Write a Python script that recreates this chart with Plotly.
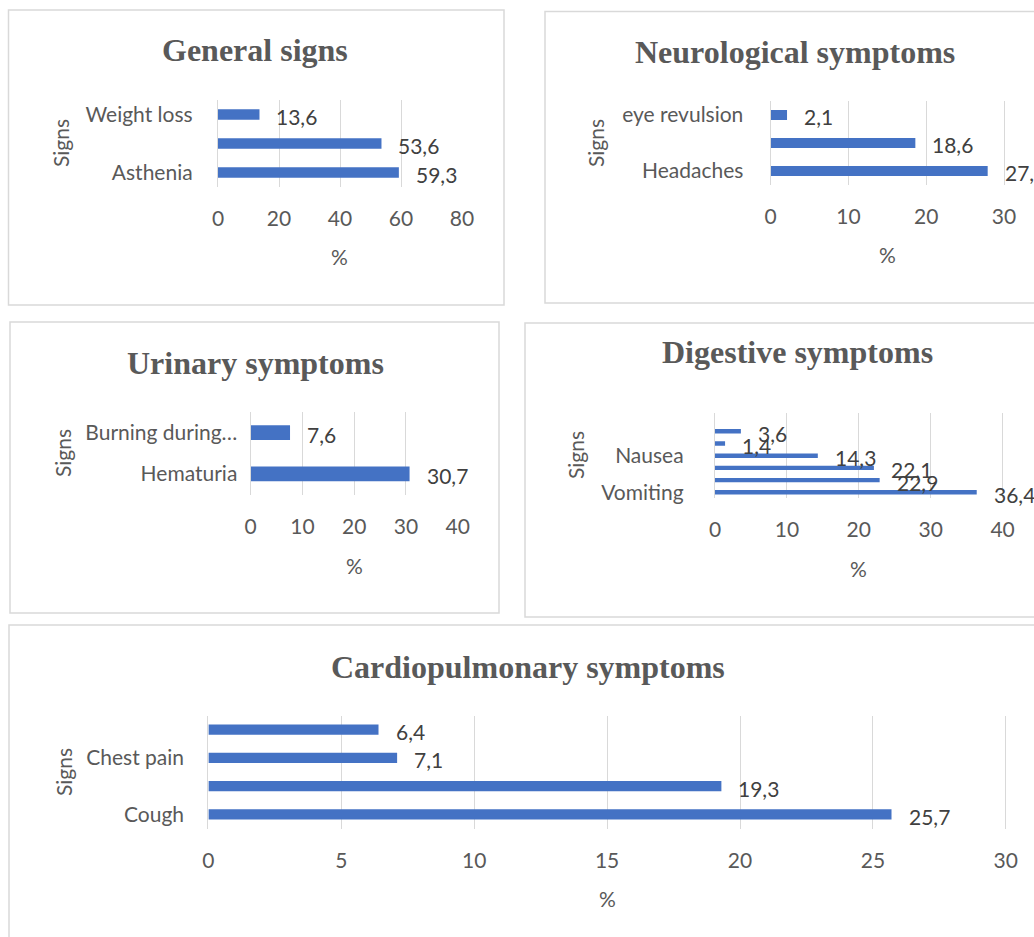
import plotly.graph_objects as go

# ---------------- data ----------------
general_labels = ["Asthenia", "", "Weight loss"]
general_values = [59.3, 53.6, 13.6]

neuro_labels = ["Headaches", "", "eye revulsion"]
neuro_values = [27.9, 18.6, 2.1]

urinary_labels = ["Hematuria", "Burning during…"]
urinary_values = [30.7, 7.6]

digestive_labels = ["Vomiting", "", "", "Nausea", "", ""]
digestive_values = [36.4, 22.9, 22.1, 14.3, 1.4, 3.6]

cardio_labels = ["Cough", "", "Chest pain", ""]
cardio_values = [25.7, 19.3, 7.1, 6.4]

titles = ["General signs", "Neurological symptoms", "Urinary symptoms",
          "Digestive symptoms", "Cardiopulmonary symptoms"]

# ---------------- layout helpers ----------------
W, H = 1034, 937
def px(x):
    return x / W
def py(y):
    return 1 - y / H

BAR = "#4472C4"
GRID = "#d9d9d9"
TXT = "#595959"
LBL = "#404040"
SANS = "Lato"
SERIF = "Liberation Serif"

panels = [
    dict(labels=general_labels, values=general_values, xd=(218, 462), yd=(100, 187),
         xr=(0, 80), dt=20, extra=0, ystand=20, border=(8.5, 10, 504, 305),
         title=(255, 50), pct=(339, 257), signs=(60, 143)),
    dict(labels=neuro_labels, values=neuro_values, xd=(770.7, 1034), yd=(101, 185),
         xr=(0, 263.3 / 7.777), dt=10, extra=0, ystand=22, border=(545, 11.5, 1300, 303),
         title=(795, 52), pct=(887, 254), signs=(595, 143)),
    dict(labels=urinary_labels, values=urinary_values, xd=(250.7, 457.7), yd=(412, 494.5),
         xr=(0, 40), dt=10, extra=0, ystand=8, border=(10, 322, 499, 613),
         title=(255, 363), pct=(354, 565), signs=(62, 453)),
    dict(labels=digestive_labels, values=digestive_values, xd=(715, 1034), yd=(413, 498.4),
         xr=(0, 319 / 7.19), dt=10, extra=1, ystand=26, border=(525, 323, 1300, 617),
         title=(797, 352), pct=(858, 568), signs=(575, 455)),
    dict(labels=cardio_labels, values=cardio_values, xd=(208.4, 1034), yd=(715.5, 828.5),
         xr=(0, 825.6 / 26.58), dt=5, extra=0, ystand=19, border=(9, 625, 1300, 1200),
         title=(528, 667), pct=(607, 898), signs=(63, 772)),
]

fig = go.Figure()
shapes = []
annotations = []
layout_axes = {}

for i, p in enumerate(panels, start=1):
    xa = "x" if i == 1 else f"x{i}"
    ya = "y" if i == 1 else f"y{i}"
    n = len(p["values"])
    pos = list(range(n))
    fig.add_trace(go.Bar(
        x=p["values"], y=pos, orientation="h", xaxis=xa, yaxis=ya,
        marker=dict(color=BAR, line=dict(width=0)), width=0.36,
        showlegend=False, hoverinfo="x",
    ))
    xkey = "xaxis" if i == 1 else f"xaxis{i}"
    ykey = "yaxis" if i == 1 else f"yaxis{i}"
    layout_axes[xkey] = dict(
        domain=[max(0, px(p["xd"][0])), min(1, px(p["xd"][1]))], range=list(p["xr"]),
        anchor=ya, dtick=p["dt"], tick0=0, showgrid=True, gridcolor=GRID, gridwidth=1.3,
        zeroline=False, showline=False, ticks="", automargin=False,
        tickfont=dict(family=SANS, size=21, color=TXT), ticklabelstandoff=17,
        fixedrange=True,
    )
    tv = [k for k, lab in enumerate(p["labels"]) if lab]
    tt = [p["labels"][k] for k in tv]
    layout_axes[ykey] = dict(
        domain=[py(p["yd"][1]), py(p["yd"][0])], range=[-0.5, n - 0.5 + p["extra"]],
        anchor=xa, tickmode="array", tickvals=tv, ticktext=tt,
        showgrid=False, zeroline=False, showline=True, linecolor=GRID, linewidth=1.3,
        ticks="", tickfont=dict(family=SANS, size=21, color=TXT), automargin=False,
        ticklabelstandoff=p["ystand"], fixedrange=True,
    )
    b = p["border"]
    shapes.append(dict(type="rect", xref="paper", yref="paper",
                       x0=px(b[0]), x1=px(b[2]), y0=py(b[3]), y1=py(b[1]),
                       line=dict(color=GRID, width=1.5), fillcolor="rgba(0,0,0,0)",
                       layer="below"))
    annotations.append(dict(text=f"<b>{titles[i-1]}</b>", xref="paper", yref="paper",
                            x=px(p["title"][0]), y=py(p["title"][1]),
                            xanchor="center", yanchor="middle", showarrow=False,
                            font=dict(family=SERIF, size=32, color=TXT)))
    annotations.append(dict(text="%", xref="paper", yref="paper",
                            x=px(p["pct"][0]), y=py(p["pct"][1]),
                            xanchor="center", yanchor="middle", showarrow=False,
                            font=dict(family=SANS, size=21, color=TXT)))
    annotations.append(dict(text="Signs", xref="paper", yref="paper", textangle=-90,
                            x=px(p["signs"][0]), y=py(p["signs"][1]),
                            xanchor="center", yanchor="middle", showarrow=False,
                            font=dict(family=SANS, size=21, color=TXT)))
    for k, v in enumerate(p["values"]):
        annotations.append(dict(text=f"{v:.1f}".replace(".", ","), xref=xa, yref=ya,
                                x=v, y=k, xanchor="left", yanchor="middle",
                                xshift=15, yshift=-2, showarrow=False,
                                font=dict(family=SANS, size=21, color=LBL)))

fig.update_layout(
    width=W, height=H, margin=dict(l=0, r=0, t=0, b=0, autoexpand=False),
    paper_bgcolor="white", plot_bgcolor="white",
    shapes=shapes, annotations=annotations, **layout_axes,
)

fig.write_html(
    "out.html",
    config={"displayModeBar": False},
    post_script="document.body.style.margin='0px';document.body.style.overflow='hidden';",
)
